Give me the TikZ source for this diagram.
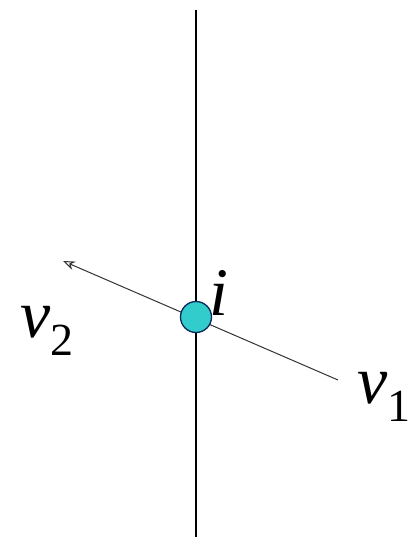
\documentclass[tikz,border=0pt]{standalone}
\usepackage{fontspec}
\setmainfont{Liberation Serif}
\usetikzlibrary{arrows.meta}
\definecolor{nodecyan}{RGB}{51,204,204}
\definecolor{nodeedge}{RGB}{10,40,90}
\tikzset{
    vertex/.style={circle, fill=nodecyan, draw=nodeedge, line width=1.3pt, minimum size=31pt, inner sep=0pt},
    biglabel/.style={inner sep=0pt, anchor=base west, font=\fontsize{68}{68}\selectfont\itshape},
}
\newcommand{\sub}[1]{\raisebox{-18pt}{\fontsize{46}{46}\selectfont\upshape #1}}

\begin{document}
\begin{tikzpicture}[x=1pt,y=-1pt]
    \useasboundingbox (0,0) rectangle (412,537);

    \coordinate (top) at (196,10);
    \coordinate (bottom) at (196,537);
    \coordinate (v1end) at (338,380);
    \coordinate (v2tip) at (63,261);

    \draw[line width=1.6pt] (top) -- (bottom);
    \draw[line width=1pt, black!80, -{Stealth[open,length=12pt,width=9pt]}] (v1end) -- (v2tip);
    \node[vertex] (vi) at (196,317) {};

    \node[biglabel] (labi) at (209,315) {i};
    \node[biglabel] (labv2) at (20,337) {v\sub{2}};
    \node[biglabel] (labv1) at (357,403) {v\sub{1}};
\end{tikzpicture}
\end{document}
